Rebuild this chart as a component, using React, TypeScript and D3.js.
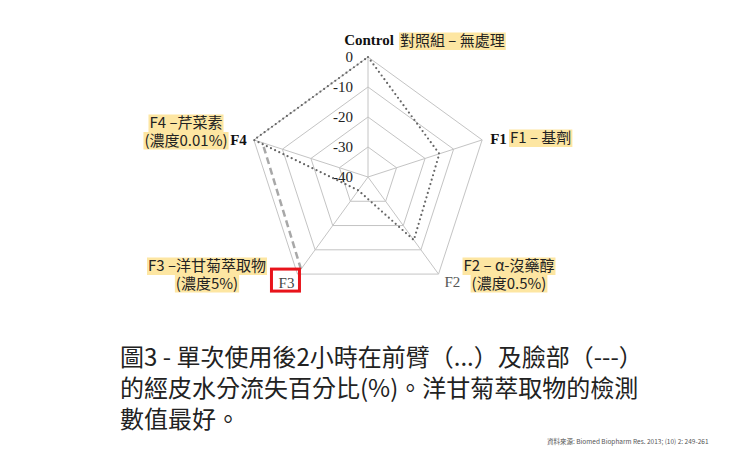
import { useEffect, useRef } from 'react';
import * as d3 from 'd3';

// axes of the radar, clockwise from top
const axes = ['Control', 'F1', 'F2', 'F3', 'F4'];
// ring levels (transepidermal water loss change, %)
const ringTicks = [0, -10, -20, -30, -40];
// forearm (...) and face (---) series
const forearm = [0, -15, -14, -34.5, 0];
const face: (number | null)[] = [null, null, null, -2, -3];

// highlighted chinese annotations per axis
const notes = [
  ['對照組 – 無處理'],
  ['F1 – 基劑'],
  ['F2 – α-沒藥醇', '(濃度0.5%)'],
  ['F3 –洋甘菊萃取物', '(濃度5%)'],
  ['F4 –芹菜素', '(濃度0.01%)'],
];

const captionLines = [
  '圖3 - 單次使用後2小時在前臂（...）及臉部（---）',
  '的經皮水分流失百分比(%)。洋甘菊萃取物的檢測',
  '數值最好。',
];
const sourceText = '資料來源: Biomed Biopharm Res. 2013; (10) 2: 249-261';

const W = 740;
const H = 463;
const cx = 368;
const cy = 177;
const R = 120;
const serif = '"Liberation Serif", "Times New Roman", serif';
const cjk = '"Noto Sans CJK TC", "Noto Sans", sans-serif';
const hl = '#fde6a2';

export default function App() {
  const svgRef = useRef<SVGSVGElement | null>(null);

  useEffect(() => {
    if (!svgRef.current) return;
    const svg = d3.select(svgRef.current);
    svg.selectAll('*').remove();

    const r = d3.scaleLinear().domain([-40, 0]).range([0, R]);
    const ang = d3.scalePoint<string>().domain(axes).range([0, (2 * Math.PI * 4) / 5]);
    const pt = (i: number, v: number): [number, number] => {
      const a = ang(axes[i]) ?? 0;
      return [cx + r(v) * Math.sin(a), cy - r(v) * Math.cos(a)];
    };

    svg.append('rect').attr('width', W).attr('height', H).attr('fill', '#fff');

    const g = svg.append('g');

    // rings
    const ring = d3.line<[number, number]>().curve(d3.curveLinearClosed);
    g.selectAll('path.ring')
      .data(ringTicks.filter((t) => t > -40))
      .join('path')
      .attr('class', 'ring')
      .attr('d', (t) => ring(axes.map((_, i) => pt(i, t))) ?? '')
      .attr('fill', 'none')
      .attr('stroke', '#c4c4c4')
      .attr('stroke-width', 1);

    // spokes
    g.selectAll('line.spoke')
      .data(axes)
      .join('line')
      .attr('class', 'spoke')
      .attr('x1', cx)
      .attr('y1', cy)
      .attr('x2', (_, i) => pt(i, 0)[0])
      .attr('y2', (_, i) => pt(i, 0)[1])
      .attr('stroke', '#c4c4c4')
      .attr('stroke-width', 1);

    // tick labels along the top spoke
    g.selectAll('text.tick')
      .data(ringTicks)
      .join('text')
      .attr('class', 'tick')
      .attr('x', cx - 15)
      .attr('y', (t) => cy - r(t) + 5)
      .attr('text-anchor', 'end')
      .attr('font-family', serif)
      .attr('font-size', 15)
      .attr('fill', '#222')
      .text((t) => String(t));

    // face series (dashed)
    const faceLine = d3
      .line<number | null>()
      .defined((d) => d !== null)
      .x((d, i) => pt(i, d as number)[0])
      .y((d, i) => pt(i, d as number)[1]);
    g.append('path')
      .datum(face)
      .attr('d', faceLine)
      .attr('fill', 'none')
      .attr('stroke', '#a8a8a8')
      .attr('stroke-width', 2.5)
      .attr('stroke-dasharray', '7 4');

    // forearm series (dotted)
    g.append('path')
      .attr('d', ring(forearm.map((v, i) => pt(i, v))) ?? '')
      .attr('fill', 'none')
      .attr('stroke', '#666')
      .attr('stroke-width', 2.2)
      .attr('stroke-linecap', 'round')
      .attr('stroke-dasharray', '0 4.6');

    // axis names
    const axisLabel = [
      { dx: 1, dy: -12, anchor: 'middle', bold: true, fill: '#111' },
      { dx: 8, dy: 4, anchor: 'start', bold: true, fill: '#111' },
      { dx: 6, dy: 13, anchor: 'start', bold: false, fill: '#555' },
      { dx: -3, dy: 14, anchor: 'end', bold: false, fill: '#444' },
      { dx: -7, dy: 5, anchor: 'end', bold: true, fill: '#111' },
    ];
    axes.forEach((name, i) => {
      const [x, y] = pt(i, 0);
      const s = axisLabel[i];
      g.append('text')
        .attr('x', x + s.dx)
        .attr('y', y + s.dy)
        .attr('text-anchor', s.anchor)
        .attr('font-family', serif)
        .attr('font-size', 15)
        .attr('font-weight', s.bold ? 'bold' : 'normal')
        .attr('fill', s.fill)
        .text(name);
    });

    // red box round F3
    const [f3x, f3y] = pt(3, 0);
    g.append('rect')
      .attr('x', f3x - 26)
      .attr('y', f3y - 5)
      .attr('width', 28)
      .attr('height', 22)
      .attr('fill', 'none')
      .attr('stroke', '#e8141b')
      .attr('stroke-width', 3);

    // highlighted notes
    const notePos = [
      { x: 400, y: 46, anchor: 'start' },
      { x: 510, y: 143, anchor: 'start' },
      { x: 509, y: 271, anchor: 'middle' },
      { x: 207, y: 271, anchor: 'middle' },
      { x: 186, y: 128, anchor: 'middle' },
    ];
    notes.forEach((lines, i) => {
      const p = notePos[i];
      lines.forEach((line, j) => {
        const bg = g.append('rect').attr('fill', hl);
        const y = p.y + j * 17.5;
        const t = g
          .append('text')
          .attr('x', p.x)
          .attr('y', y)
          .attr('text-anchor', p.anchor)
          .attr('font-family', cjk)
          .attr('font-size', 15)
          .attr('fill', '#222')
          .text(line);
        const b = (t.node() as SVGTextElement).getBBox();
        bg.attr('x', b.x - 1)
          .attr('y', y - 13.5)
          .attr('width', b.width + 2)
          .attr('height', 17.5);
      });
    });

    // caption
    svg
      .append('g')
      .selectAll('text')
      .data(captionLines)
      .join('text')
      .attr('x', 120)
      .attr('y', (_, i) => 366 + i * 31)
      .attr('font-family', cjk)
      .attr('font-size', 24)
      .attr('fill', '#222')
      .text((d) => d);

    svg
      .append('text')
      .attr('x', 547)
      .attr('y', 444)
      .attr('font-family', cjk)
      .attr('font-size', 6.5)
      .attr('fill', '#555')
      .text(sourceText);
  }, []);

  return (
    <svg
      ref={svgRef}
      width={W}
      height={H}
      viewBox={`0 0 ${W} ${H}`}
      style={{ position: 'absolute', left: 0, top: 0, display: 'block' }}
    />
  );
}
